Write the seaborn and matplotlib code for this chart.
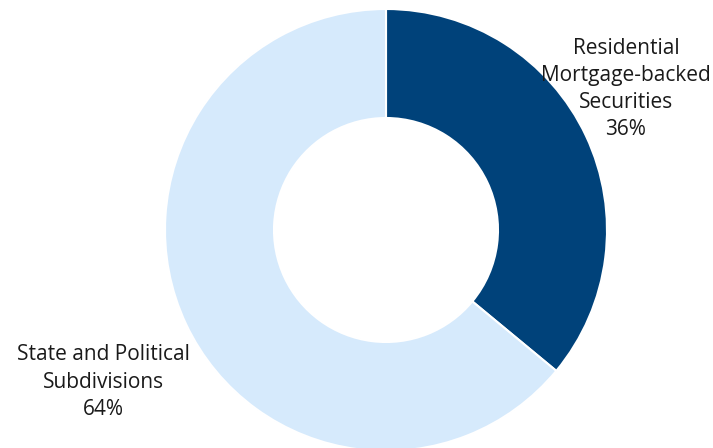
import matplotlib
matplotlib.use('Agg')
import matplotlib.pyplot as plt
import seaborn as sns

labels = ['Residential\nMortgage-backed\nSecurities', 'State and Political\nSubdivisions']
shares = [36, 64]
colors = ['#00427A', '#D6EAFC']

sns.set_theme(style='white')
plt.rcParams['font.family'] = ['Open Sans', 'DejaVu Sans']

fig = plt.figure(figsize=(7.13, 4.48), dpi=100)
ax = fig.add_axes([0, 0, 1, 1])

cx, cy, r = 386, 448 - 230, 221
wedges, _ = ax.pie(shares, colors=colors, startangle=90, counterclock=False,
                   center=(cx, cy), radius=r, frame=True,
                   wedgeprops=dict(width=r - 112, edgecolor='white', linewidth=1.5))
ax.set_xlim(0, 713)
ax.set_ylim(0, 448)
ax.set_aspect('equal')
ax.axis('off')

# labels
ax.text(626, 448 - 89, f'{labels[0]}\n{shares[0]}%', ha='center', va='center',
        fontsize=15, color='#1a1a1a', linespacing=1.38)
ax.text(103, 448 - 382, f'{labels[1]}\n{shares[1]}%', ha='center', va='center',
        fontsize=15, color='#1a1a1a', linespacing=1.38)

fig.savefig('out.png', dpi=100)
plt.close()
